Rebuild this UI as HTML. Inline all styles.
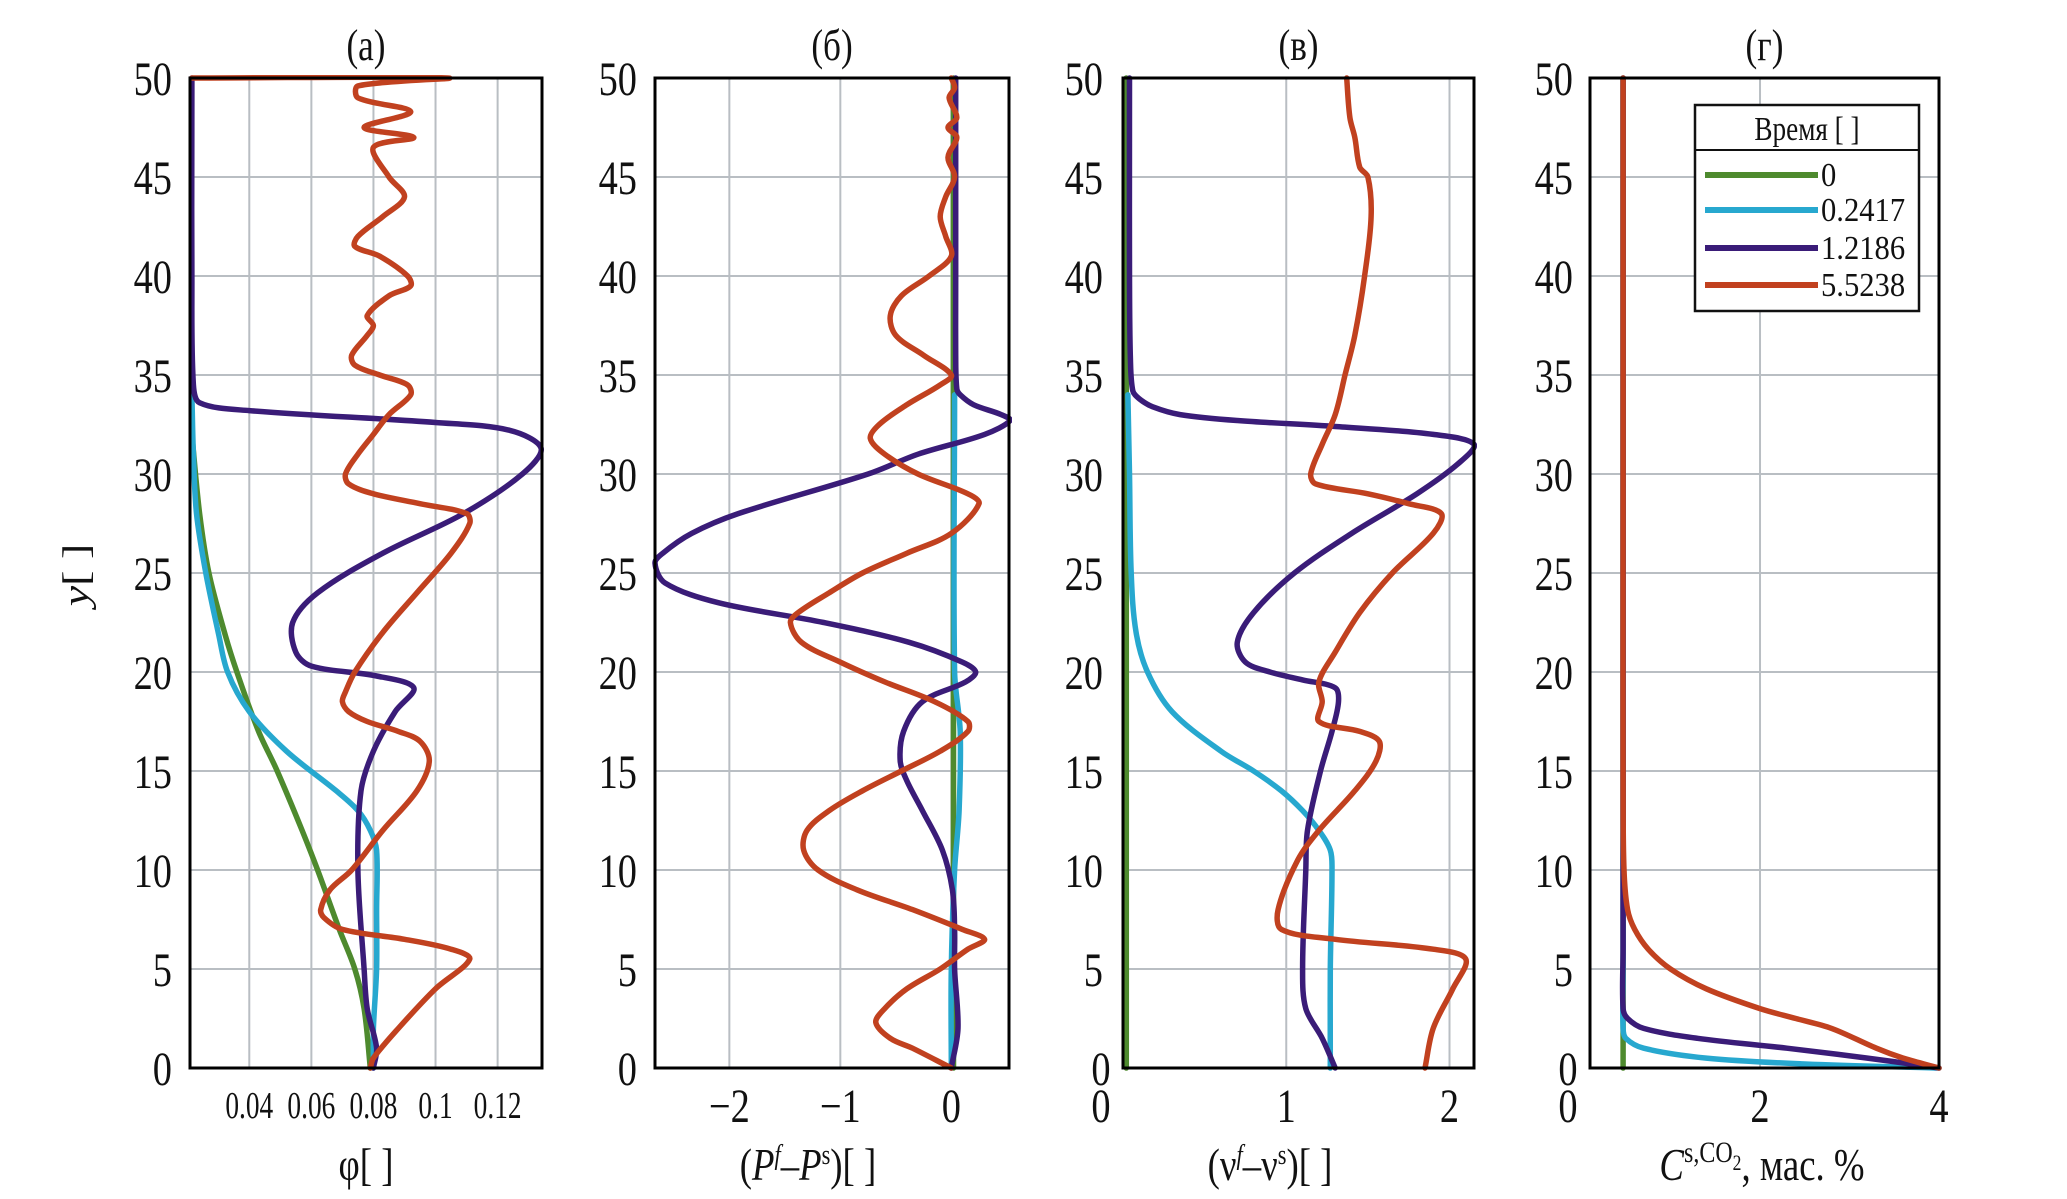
<!DOCTYPE html>
<html><head><meta charset="utf-8"><style>
html,body{margin:0;padding:0;background:#fff;}
svg{display:block;font-family:"Liberation Serif","DejaVu Serif",serif;}
</style></head><body>
<svg id="fig" width="2067" height="1199" viewBox="0 0 2067 1199"></svg>
<script>
// ---- data ----
const yTicks = [0,5,10,15,20,25,30,35,40,45,50];
const yTickLabels = ["0","5","10","15","20","25","30","35","40","45","50"];
const legendLabels = ["0","0.2417","1.2186","5.5238"];
const colors = ["#4e8a2e","#27a8cf","#3a1c78","#c1411f"];

// panel a: phi
const aGreenY = [32,28,25,22,20,17,15,12,10,7,5,3,0];
const aGreenX = [0.0215,0.024,0.027,0.032,0.036,0.043,0.049,0.057,0.062,0.069,0.074,0.077,0.079];
const aCyanY = [34,31,28,25,22,20,18,16,14,13,12,11,8,5,2,0];
const aCyanX = [0.0215,0.022,0.023,0.026,0.030,0.033,0.040,0.052,0.068,0.075,0.079,0.081,0.081,0.081,0.080,0.080];
const aPurpY = [50,40,34.5,33.6,33.2,32.6,32.2,31.3,30,28,26,24,22.5,21,20.3,19.8,19.2,18,16,14,10,5,3,1,0];
const aPurpX = [0.0215,0.0215,0.022,0.024,0.040,0.100,0.124,0.134,0.128,0.109,0.083,0.062,0.054,0.055,0.060,0.081,0.093,0.087,0.080,0.076,0.075,0.077,0.078,0.081,0.080];
const aRedY = [50,50,49.6,49,48.3,47.5,47,46.5,45,44,43,42,41.5,41,40,39.5,39,38,37.5,37,36,35.5,35,34.5,34,33,32,31,30,29.5,29,28.5,28,27.5,26,24,22,20,19,18.5,18,17.5,17,16.5,15.5,14,12,10,9,8,7.6,7,6.5,6,5.5,4,2,0.5,0];
const aRedX = [0.0215,0.104,0.075,0.075,0.092,0.077,0.093,0.080,0.085,0.090,0.083,0.075,0.074,0.082,0.091,0.092,0.085,0.078,0.080,0.078,0.073,0.074,0.082,0.091,0.092,0.085,0.080,0.075,0.071,0.072,0.080,0.095,0.110,0.111,0.105,0.094,0.083,0.074,0.071,0.070,0.072,0.078,0.088,0.095,0.098,0.094,0.083,0.073,0.066,0.063,0.064,0.070,0.090,0.105,0.111,0.100,0.088,0.080,0.079];

// panel b: Pf-Ps
const bGreenY = [50,0];
const bGreenX = [0.02,0.02];
const bCyanY = [34,20,17,13,10,5,0];
const bCyanX = [0.03,0.03,0.08,0.07,0.03,0.0,0.0];
const bPurpY = [50,40,36,34.3,34,33.5,33,32.7,32,31,30,28,27,26,25.5,24.5,23.5,22.5,21.5,20.5,20,19.5,18.5,17,15.5,14.5,13,11,9,7,5,2,0];
const bPurpX = [0.04,0.04,0.04,0.05,0.08,0.2,0.45,0.53,0.3,-0.3,-0.75,-1.92,-2.34,-2.6,-2.67,-2.58,-2.1,-1.15,-0.38,0.1,0.22,0.13,-0.26,-0.43,-0.46,-0.40,-0.26,-0.08,0.01,0.03,0.03,0.06,0.0];
const bRedY = [50,49.5,49,48,47.5,47,46,45,44,43,42,41,40,39,38,37,36,35,34.5,33.5,32.5,31.8,31,30,29,28.5,27,26,25,24,23,22.5,21.5,20.5,19.5,18.5,17.5,17,16,15,14,13,12,11,10,9,8,7,6.5,6,5,4,3,2.3,1.5,1,0];
const bRedX = [0,0.03,-0.02,0.05,-0.03,0.05,-0.03,0.03,-0.05,-0.1,-0.05,0.0,-0.2,-0.45,-0.55,-0.5,-0.25,0.0,-0.1,-0.4,-0.65,-0.73,-0.6,-0.3,0.15,0.25,0.0,-0.4,-0.8,-1.1,-1.38,-1.45,-1.35,-1.0,-0.6,-0.15,0.15,0.15,-0.1,-0.45,-0.8,-1.1,-1.3,-1.33,-1.2,-0.85,-0.35,0.1,0.3,0.15,-0.1,-0.4,-0.6,-0.68,-0.55,-0.35,0];

// panel c: vf-vs
const cGreenY = [50,0];
const cGreenX = [0.02,0.02];
const cCyanY = [34,30,25,22,20,18,16,15,14,13,12,11,10,5,0];
const cCyanX = [0.03,0.04,0.05,0.08,0.15,0.3,0.6,0.8,0.97,1.1,1.2,1.27,1.28,1.27,1.27];
const cPurpY = [50,40,36,34.2,33.8,33.4,33,32.7,32.4,32,31.5,30.5,29,27,25,23,21.5,20.5,20,19.6,19.2,18.5,17,15,12,10,5,3,1.5,0];
const cPurpX = [0.04,0.04,0.045,0.06,0.1,0.18,0.35,0.7,1.3,1.9,2.15,2.05,1.8,1.4,1.05,0.8,0.7,0.75,0.9,1.1,1.3,1.32,1.28,1.21,1.13,1.12,1.1,1.12,1.22,1.3];
const cRedY = [50,48,47,45.5,45,43,40,37,35,33,31.5,30,29.5,29,28.5,28,27,25,23,21,19.5,18.5,17.5,17,16.5,15.5,14,12,10.5,8,7,6.5,6,5.5,4,2,0];
const cRedX = [1.37,1.39,1.42,1.45,1.5,1.52,1.48,1.42,1.36,1.3,1.22,1.15,1.18,1.5,1.75,1.95,1.9,1.65,1.45,1.3,1.2,1.22,1.2,1.45,1.57,1.55,1.42,1.2,1.07,0.95,0.97,1.3,1.9,2.1,2.02,1.9,1.85];

// panel d: C
const dGreenY = [50,0];
const dGreenX = [0.47,0.47];
const dCyanY = [50,20,5,2,1.5,1,0.5,0.2,0];
const dCyanX = [0.47,0.47,0.47,0.47,0.5,0.7,1.4,2.5,4];
const dPurpY = [50,20,6,3,2.5,2,1.5,1,0.5,0];
const dPurpX = [0.47,0.47,0.47,0.47,0.52,0.7,1.3,2.3,3.2,4];
const dRedY = [50,30,14,10,8,7,6,5,4,3,2.5,2,1,0.5,0];
const dRedX = [0.47,0.47,0.47,0.48,0.52,0.6,0.75,1.0,1.4,2.0,2.4,2.8,3.3,3.6,4];

const aXTicks = [0.04,0.06,0.08,0.1,0.12];
const aXLabels = ["0.04","0.06","0.08","0.1","0.12"];
const bXTicks = [-2,-1,0];
const bXLabels = ["\u22122","\u22121","0"];
const cXTicks = [1,2];
const cXLabels = ["1","2"];
const dXTicks = [2,4];
const dXLabels = ["2","4"];

// ---- drawing ----
const NS = "http://www.w3.org/2000/svg";
const svg = document.getElementById("fig");
const Y0 = 1068, Y1 = 78;
function yScale(v){ return Y0 + (Y1 - Y0) * v / 50; }
function mk(tag, attrs, parent){
  const e = document.createElementNS(NS, tag);
  for (const k in attrs) e.setAttribute(k, attrs[k]);
  (parent || svg).appendChild(e);
  return e;
}
function txt(s, x, y, size, anchor, parent, sx){
  const t = mk("text", {x:0, y:0, "font-size":size, "text-anchor":anchor, fill:"#111",
    transform:"translate(" + x + "," + y + ") scale(" + (sx || 0.8) + ",1)"}, parent);
  t.textContent = s;
  return t;
}
function dist(a,b){ return Math.hypot(a[0]-b[0], a[1]-b[1]) || 1e-6; }
function smoothPath(pts){
  if (pts.length < 3) return "M" + pts.map(p => p[0].toFixed(1) + "," + p[1].toFixed(1)).join("L");
  let d = "M" + pts[0][0].toFixed(1) + "," + pts[0][1].toFixed(1);
  for (let i = 0; i < pts.length - 1; i++){
    const p0 = pts[i-1] || pts[i], p1 = pts[i], p2 = pts[i+1], p3 = pts[i+2] || p2;
    const d01 = dist(p0,p1), d12 = dist(p1,p2), d23 = dist(p2,p3);
    const k1 = d12 / (3 * (d01 + d12)), k2 = d12 / (3 * (d12 + d23));
    const c1 = [p1[0] + (p2[0]-p0[0])*k1, p1[1] + (p2[1]-p0[1])*k1];
    const c2 = [p2[0] - (p3[0]-p1[0])*k2, p2[1] - (p3[1]-p1[1])*k2];
    d += "C" + c1[0].toFixed(1) + "," + c1[1].toFixed(1) + " " + c2[0].toFixed(1) + "," + c2[1].toFixed(1) + " " + p2[0].toFixed(1) + "," + p2[1].toFixed(1);
  }
  return d;
}

const panels = [
  {id:"a", L:190, R:542, xmin:0.0209, xmax:0.1343, title:"(a)", xt:aXTicks, xl:aXLabels, small:true,
   series:[[aGreenX,aGreenY],[aCyanX,aCyanY],[aPurpX,aPurpY],[aRedX,aRedY]], ytr:172},
  {id:"b", L:655, R:1009, xmin:-2.67, xmax:0.52, title:"(\u0431)", xt:bXTicks, xl:bXLabels,
   series:[[bGreenX,bGreenY],[bCyanX,bCyanY],[bPurpX,bPurpY],[bRedX,bRedY]], ytr:637},
  {id:"c", L:1123, R:1474, xmin:0, xmax:2.15, title:"(\u0432)", xt:cXTicks, xl:cXLabels,
   series:[[cGreenX,cGreenY],[cCyanX,cCyanY],[cPurpX,cPurpY],[cRedX,cRedY]], ytr:1103, zeroX:1101},
  {id:"d", L:1590, R:1939, xmin:0.1, xmax:4, title:"(\u0433)", xt:dXTicks, xl:dXLabels,
   series:[[dGreenX,dGreenY],[dCyanX,dCyanY],[dPurpX,dPurpY],[dRedX,dRedY]], ytr:1573, zeroX:1568}
];
const seriesNames = ["series-t0","series-t0-2417","series-t1-2186","series-t5-5238"];

panels.forEach(p => {
  const g = mk("g", {});
  
  
  const xs = v => p.L + (p.R - p.L) * (v - p.xmin) / (p.xmax - p.xmin);
  mk("rect", {x:p.L, y:Y1, width:p.R-p.L, height:Y0-Y1, fill:"#fff"}, g);
  yTicks.forEach(t => {
    const l = mk("line", {x1:p.L, x2:p.R, y1:yScale(t), y2:yScale(t), stroke:"#b9bec3", "stroke-width":2}, g);
    
    
  });
  p.xt.forEach(t => {
    const l = mk("line", {x1:xs(t), x2:xs(t), y1:Y1, y2:Y0, stroke:"#b9bec3", "stroke-width":2}, g);
    
    
  });
  const cg = mk("g", {}, g);
  cg.setAttribute('clip-path', 'url(#clip-' + p.id + ')');
  const cp = mk("clipPath", {id:"clip-" + p.id}, svg);
  mk("rect", {x:p.L-3, y:Y1-3, width:p.R-p.L+6, height:Y0-Y1+6}, cp);
  p.series.forEach((s, i) => {
    const pts = s[1].map((yv, k) => [xs(s[0][k]), yScale(yv)]);
    const path = mk("path", {d:smoothPath(pts), fill:"none", stroke:colors[i], "stroke-width":5.5,
      "stroke-linejoin":"round", "stroke-linecap":"round"}, cg);
    
    
  });
  const fr = mk("rect", {x:p.L, y:Y1, width:p.R-p.L, height:Y0-Y1, fill:"none", stroke:"#000", "stroke-width":3}, g);
  
  
  yTicks.forEach((t, i) => {
    if (t === 0 && p.zeroX) return;
    const tl = txt(yTickLabels[i], p.ytr, yScale(t) + 17, 48, "end", g);
    
    
  });
  if (p.zeroX){
    const z0 = txt("0", p.zeroX, yScale(0) + 17, 48, "middle", g);
    
    
    const z1 = txt("0", p.zeroX, 1122, 48, "middle", g);
    
    
  }
  p.xt.forEach((t, i) => {
    const tl = txt(p.xl[i], xs(t), p.small ? 1118 : 1122, p.small ? 38 : 48, "middle", g, p.small ? 0.72 : 0.8);
    
    
  });
  const ti = txt(p.title, (p.L + p.R) / 2, 60, 44, "middle", g);
  
  
});

function xTitle(html, x, name){
  const t = mk("text", {x:0, y:0, "font-size":46, "text-anchor":"middle", fill:"#111", transform:"translate(" + x + ",1180) scale(0.8,1)"});
  t.innerHTML = html;
  
  
}
xTitle('\u03c6[ ]', 366, 'x-axis-title-a');
xTitle('(<tspan font-style="italic">P</tspan><tspan font-size="28" dy="-16" font-style="italic">f</tspan><tspan dy="16">\u2013</tspan><tspan font-style="italic">P</tspan><tspan font-size="28" dy="-16">s</tspan><tspan dy="16">)[ ]</tspan>', 808, 'x-axis-title-b');
xTitle('(\u03bd<tspan font-size="28" dy="-16" font-style="italic">f</tspan><tspan dy="16">\u2013\u03bd</tspan><tspan font-size="28" dy="-16">s</tspan><tspan dy="16">)[ ]</tspan>', 1270, 'x-axis-title-c');
xTitle('<tspan font-style="italic">C</tspan><tspan font-size="30" dy="-18">s,CO</tspan><tspan font-size="22" dy="8">2</tspan><tspan dy="10">, \u043c\u0430\u0441. %</tspan>', 1762, 'x-axis-title-d');

const yt = mk("text", {x:0, y:0, "font-size":46, "text-anchor":"middle", fill:"#111", transform:"translate(88,575) rotate(-90) scale(1,0.8)"});
yt.innerHTML = '<tspan font-style="italic">y</tspan>[ ]';



const lg = mk("g", {});


mk("rect", {x:1695, y:105, width:224, height:206, fill:"#fff", stroke:"#111", "stroke-width":2.5}, lg);
mk("line", {x1:1695, x2:1919, y1:150, y2:150, stroke:"#111", "stroke-width":2}, lg);
const lt = txt("\u0412\u0440\u0435\u043c\u044f [ ]", 1807, 140, 34, "middle", lg);


const legY = [175,210,248,285];
legendLabels.forEach((s, i) => {
  const l = mk("line", {x1:1705, x2:1818, y1:legY[i], y2:legY[i], stroke:colors[i], "stroke-width":6}, lg);
  
  
  const t = txt(s, 1821, legY[i] + 11, 34, "start", lg, 0.9);
  
  
});
</script>
</body></html>
